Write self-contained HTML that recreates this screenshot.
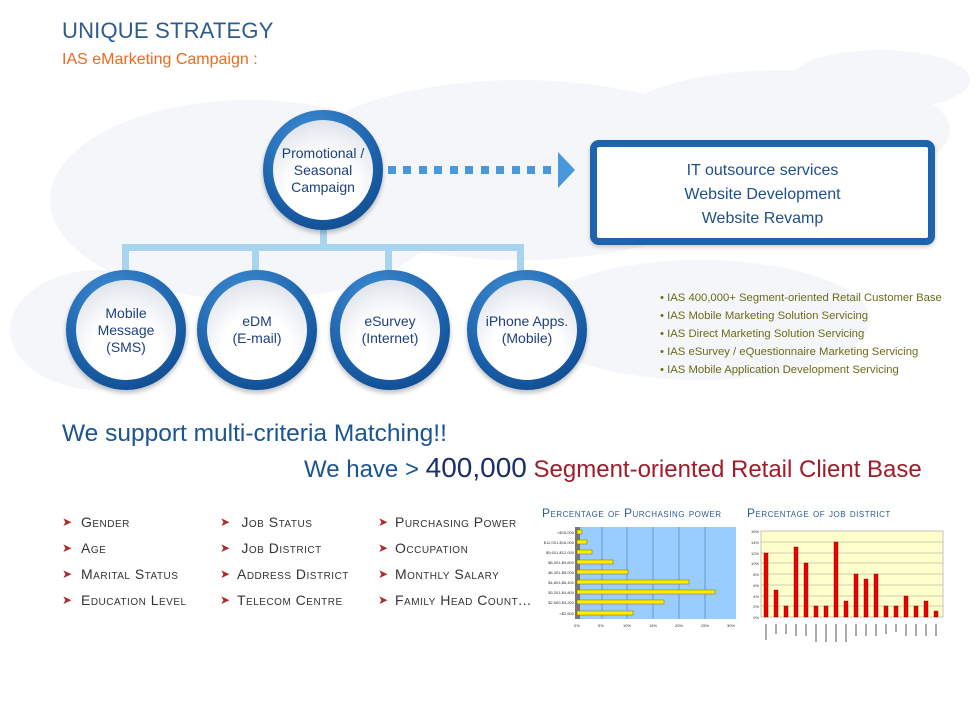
<!DOCTYPE html>
<html><head><meta charset="utf-8"><style>
body{margin:0;width:978px;height:701px;overflow:hidden;background:#fff;font-family:"Liberation Sans",sans-serif;position:relative}
.a{position:absolute;white-space:nowrap}
.c{position:absolute;width:120px;height:120px;border-radius:50%;background:radial-gradient(circle at 40% 25%,#3f8fd6,#1a5fa8 60%,#0b3f80);box-shadow:0 3px 5px rgba(0,0,0,.25)}
.c .in{position:absolute;left:10px;top:10px;width:100px;height:100px;border-radius:50%;background:radial-gradient(circle at 50% 70%,#ffffff 40%,#e4e8ee 75%,#c9ced6);display:flex;align-items:center;justify-content:center;text-align:center;color:#1d3f7e;font-size:14px;line-height:17px}
.sc{font-variant:small-caps;font-size:14px;color:#333;letter-spacing:.5px}
.ar{color:#b02a2a;font-size:12px}
.bl{color:#6b6b18;font-size:11.3px}
</style></head><body>
<svg class="a" style="left:0;top:0" width="978" height="701">
<g fill="#f4f6f9">
<ellipse cx="250" cy="200" rx="200" ry="100"/><ellipse cx="520" cy="170" rx="230" ry="90"/><ellipse cx="780" cy="130" rx="170" ry="60"/>
<ellipse cx="700" cy="320" rx="170" ry="60"/><ellipse cx="100" cy="330" rx="90" ry="60"/><ellipse cx="880" cy="80" rx="90" ry="30"/>
</g>
<rect x="320" y="226" width="7" height="24" fill="#a9d4ee"/>
<rect x="122" y="244" width="402" height="7" fill="#a9d4ee"/>
<rect x="122" y="244" width="7" height="30" fill="#a9d4ee"/>
<rect x="252" y="244" width="7" height="30" fill="#a9d4ee"/>
<rect x="385" y="244" width="7" height="30" fill="#a9d4ee"/>
<rect x="517" y="244" width="7" height="30" fill="#a9d4ee"/>
<g fill="#4a98dc">
<rect x="388" y="166" width="8" height="8"/><rect x="403" y="166" width="8" height="8"/><rect x="419" y="166" width="8" height="8"/><rect x="434" y="166" width="8" height="8"/><rect x="450" y="166" width="8" height="8"/><rect x="465" y="166" width="8" height="8"/><rect x="481" y="166" width="8" height="8"/><rect x="496" y="166" width="8" height="8"/><rect x="512" y="166" width="8" height="8"/><rect x="527" y="166" width="8" height="8"/><rect x="543" y="166" width="8" height="8"/>
<polygon points="558,152 575,170 558,188"/>
</g>
</svg>
<div class="a" style="left:62px;top:18px;font-size:22px;color:#2d5b8c;letter-spacing:0.2px">UNIQUE STRATEGY</div>
<div class="a" style="left:62px;top:51px;font-size:16px;color:#ea6a1e">IAS eMarketing Campaign :</div>

<div class="c" style="left:263px;top:110px"><div class="in">Promotional /<br>Seasonal<br>Campaign</div></div>
<div class="c" style="left:66px;top:270px"><div class="in">Mobile<br>Message<br>(SMS)</div></div>
<div class="c" style="left:197px;top:270px"><div class="in">eDM<br>(E-mail)</div></div>
<div class="c" style="left:330px;top:270px"><div class="in">eSurvey<br>(Internet)</div></div>
<div class="c" style="left:467px;top:270px"><div class="in">iPhone Apps.<br>(Mobile)</div></div>

<div class="a" style="left:590px;top:140px;width:331px;height:91px;border:7px solid #1d63ad;border-radius:9px;background:#fff;box-shadow:0 2px 4px rgba(0,0,0,.2);text-align:center;color:#1d4f8c;font-size:16px;line-height:24px"><div style="margin-top:12px">IT outsource services<br>Website Development<br>Website Revamp</div></div>

<div class="a bl" style="left:660px;top:289px;line-height:18px">• IAS 400,000+ Segment-oriented Retail Customer Base<br>• IAS Mobile Marketing Solution Servicing<br>• IAS Direct Marketing Solution Servicing<br>• IAS eSurvey / eQuestionnaire Marketing Servicing<br>• IAS Mobile Application Development Servicing</div>

<div class="a" style="left:62px;top:420px;font-size:24.5px;color:#1b5494">We support multi-criteria Matching!!</div>
<div class="a" style="left:304px;top:452px;font-size:24px;color:#1b5494">We have &gt; <span style="font-size:28px;color:#1a2f6a">400,000</span> <span style="color:#a01c28">Segment-oriented Retail Client Base</span></div>

<div class="a" style="left:62px;top:509px;line-height:26px"><span class="ar">➤</span><br><span class="ar">➤</span><br><span class="ar">➤</span><br><span class="ar">➤</span></div>
<div class="a sc" style="left:81px;top:509px;line-height:26px">Gender<br>Age<br>Marital Status<br>Education Level</div>
<div class="a" style="left:220px;top:509px;line-height:26px"><span class="ar">➤</span><br><span class="ar">➤</span><br><span class="ar">➤</span><br><span class="ar">➤</span></div>
<div class="a sc" style="left:237px;top:509px;line-height:26px">&nbsp;Job Status<br>&nbsp;Job District<br>Address District<br>Telecom Centre</div>
<div class="a" style="left:378px;top:509px;line-height:26px"><span class="ar">➤</span><br><span class="ar">➤</span><br><span class="ar">➤</span><br><span class="ar">➤</span></div>
<div class="a sc" style="left:395px;top:509px;line-height:26px">Purchasing Power<br>Occupation<br>Monthly Salary<br>Family Head Count...</div>

<div class="a" style="left:542px;top:506px;font-size:12px;color:#2b5b95;font-variant:small-caps;letter-spacing:.5px">Percentage of Purchasing power</div>
<div class="a" style="left:747px;top:506px;font-size:12px;color:#2b5b95;font-variant:small-caps;letter-spacing:.5px">Percentage of job district</div>

<svg class="a" style="left:0;top:0" width="978" height="701" font-family="Liberation Sans" font-size="4" fill="#333">
<rect x="575" y="527" width="161" height="92" fill="#99ccff"/>
<rect x="575" y="527" width="5" height="92" fill="#777"/>
<g stroke="#5577aa" stroke-width="0.6"><line x1="602" y1="527" x2="602" y2="619"/><line x1="627" y1="527" x2="627" y2="619"/><line x1="653" y1="527" x2="653" y2="619"/><line x1="679" y1="527" x2="679" y2="619"/><line x1="705" y1="527" x2="705" y2="619"/></g>
<g fill="#ffee00" stroke="#886600" stroke-width="0.5">
<rect x="577" y="530" width="5" height="4"/><rect x="577" y="540" width="10" height="4"/><rect x="577" y="550" width="15" height="4"/><rect x="577" y="560" width="36" height="4"/><rect x="577" y="570" width="51" height="4"/><rect x="577" y="580" width="112" height="4"/><rect x="577" y="590" width="138" height="4"/><rect x="577" y="600" width="87" height="4"/><rect x="577" y="611" width="56" height="4"/>
</g>
<g text-anchor="end"><text x="574" y="534">&gt;$16,000</text><text x="574" y="544">$12,001-$16,000</text><text x="574" y="554">$9,601-$12,000</text><text x="574" y="564">$8,001-$9,600</text><text x="574" y="574">$6,401-$8,000</text><text x="574" y="584">$4,801-$6,400</text><text x="574" y="594">$3,201-$4,800</text><text x="574" y="604">$2,600-$3,200</text><text x="574" y="615">&lt;$2,600</text></g>
<g><text x="574" y="627">0%</text><text x="598" y="627">5%</text><text x="623" y="627">10%</text><text x="649" y="627">15%</text><text x="675" y="627">20%</text><text x="701" y="627">25%</text><text x="727" y="627">30%</text></g>

<rect x="761" y="531" width="182" height="86" fill="#ffffcc" stroke="#888" stroke-width="0.5"/>
<g stroke="#999" stroke-width="0.5"><line x1="761" y1="542" x2="943" y2="542"/><line x1="761" y1="553" x2="943" y2="553"/><line x1="761" y1="563" x2="943" y2="563"/><line x1="761" y1="574" x2="943" y2="574"/><line x1="761" y1="585" x2="943" y2="585"/><line x1="761" y1="596" x2="943" y2="596"/><line x1="761" y1="606" x2="943" y2="606"/></g>
<g fill="#ee0000" stroke="#660000" stroke-width="0.4">
<rect x="764" y="553" width="4" height="64"/><rect x="774" y="590" width="4" height="27"/><rect x="784" y="606" width="4" height="11"/><rect x="794" y="547" width="4" height="70"/><rect x="804" y="563" width="4" height="54"/><rect x="814" y="606" width="4" height="11"/><rect x="824" y="606" width="4" height="11"/><rect x="834" y="542" width="4" height="75"/><rect x="844" y="601" width="4" height="16"/><rect x="854" y="574" width="4" height="43"/><rect x="864" y="579" width="4" height="38"/><rect x="874" y="574" width="4" height="43"/><rect x="884" y="606" width="4" height="11"/><rect x="894" y="606" width="4" height="11"/><rect x="904" y="596" width="4" height="21"/><rect x="914" y="606" width="4" height="11"/><rect x="924" y="601" width="4" height="16"/><rect x="934" y="611" width="4" height="6"/>
</g>
<g text-anchor="end"><text x="759" y="533">16%</text><text x="759" y="544">14%</text><text x="759" y="555">12%</text><text x="759" y="565">10%</text><text x="759" y="576">8%</text><text x="759" y="587">6%</text><text x="759" y="598">4%</text><text x="759" y="608">2%</text><text x="759" y="619">0%</text></g>
<g fill="#aaa"><rect x="765" y="624" width="2" height="16"/><rect x="775" y="624" width="2" height="10"/><rect x="785" y="624" width="2" height="10"/><rect x="795" y="624" width="2" height="12"/><rect x="805" y="624" width="2" height="12"/><rect x="815" y="624" width="2" height="18"/><rect x="825" y="624" width="2" height="18"/><rect x="835" y="624" width="2" height="18"/><rect x="845" y="624" width="2" height="18"/><rect x="855" y="624" width="2" height="12"/><rect x="865" y="624" width="2" height="12"/><rect x="875" y="624" width="2" height="12"/><rect x="885" y="624" width="2" height="10"/><rect x="895" y="624" width="2" height="8"/><rect x="905" y="624" width="2" height="12"/><rect x="915" y="624" width="2" height="12"/><rect x="925" y="624" width="2" height="12"/><rect x="935" y="624" width="2" height="12"/></g>
</svg>
</body></html>
